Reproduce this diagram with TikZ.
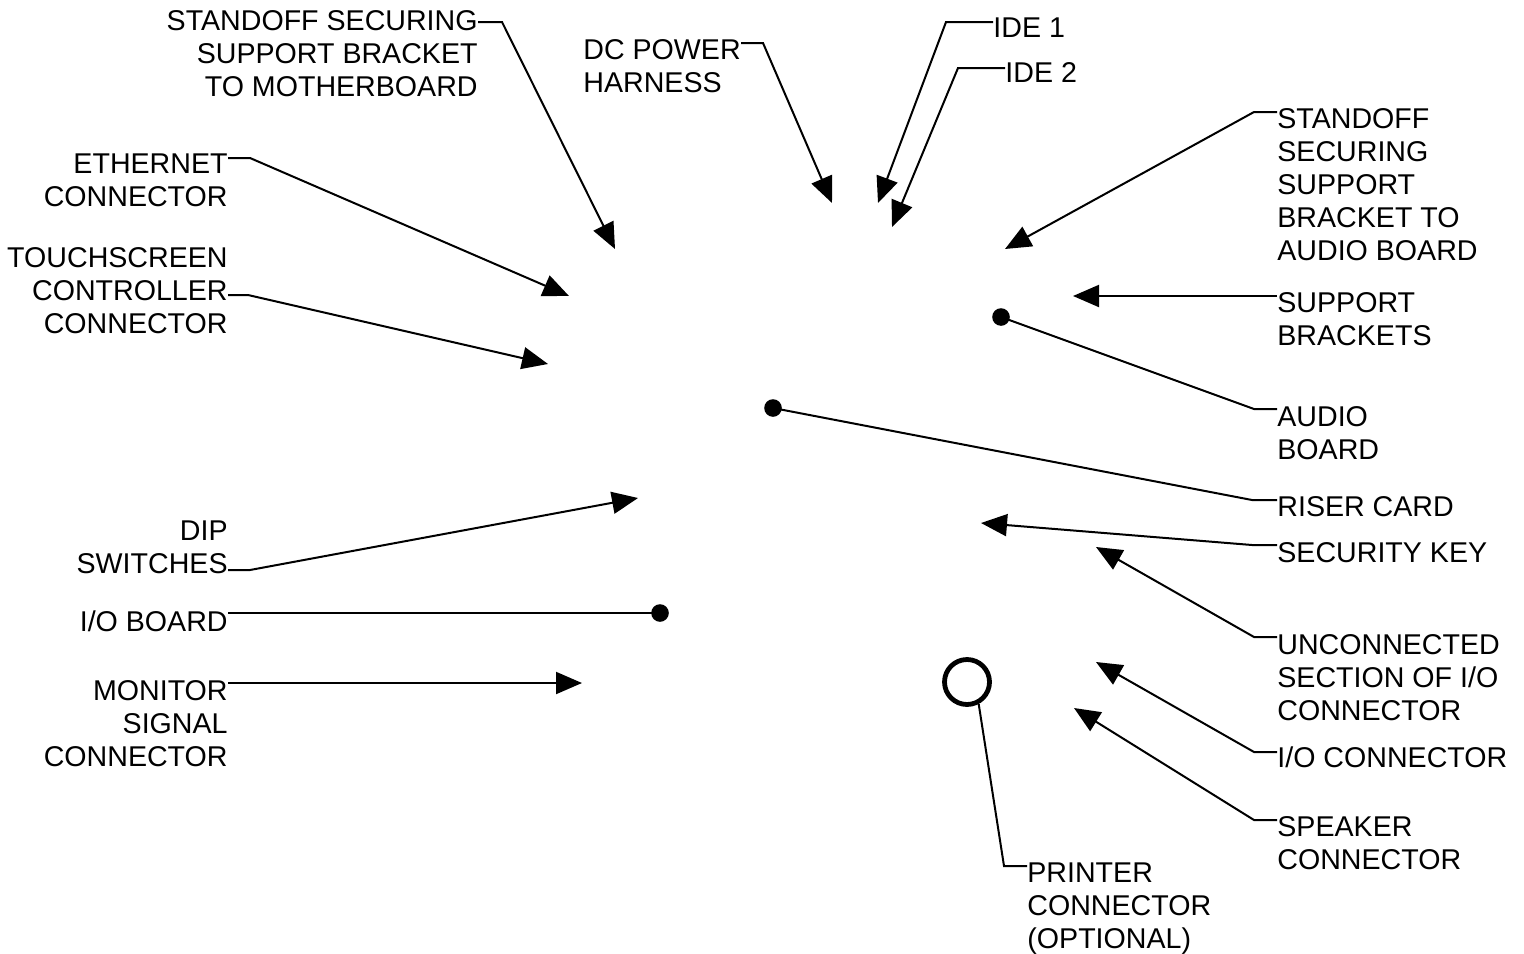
\documentclass[tikz,border=0pt]{standalone}
\usepackage{fontspec}
\setmainfont{Liberation Sans}
\usetikzlibrary{arrows.meta}

\begin{document}
\begin{tikzpicture}[x=0.5pt, y=-0.5pt,
    lbl/.style={font=\fontsize{14.3}{16.5}\selectfont, inner sep=0pt, align=left, anchor=north west},
    lblr/.style={lbl, align=right, anchor=north east},
    lead/.style={line width=1pt, -{Triangle[length=13pt, width=11pt]}},
    plain/.style={line width=1pt},
    dot/.style={circle, fill, inner sep=0pt, minimum size=8.8pt},
    ring/.style={circle, draw, line width=2.4pt, inner sep=0pt, minimum size=22.5pt}]
    \useasboundingbox (0,0) rectangle (1524,953);

    \node[lblr] (somb) at (478,10) {STANDOFF SECURING\\SUPPORT BRACKET\\TO MOTHERBOARD};
    \node[lblr] (eth) at (228,153) {ETHERNET\\CONNECTOR};
    \node[lblr] (touch) at (228,247) {TOUCHSCREEN\\CONTROLLER\\CONNECTOR};
    \node[lblr] (dip) at (228,520) {DIP\\SWITCHES};
    \node[lblr] (iob) at (228,610) {I/O BOARD};
    \node[lblr] (mon) at (228,680) {MONITOR\\SIGNAL\\CONNECTOR};

    \node[lbl] (dc) at (583,39) {DC POWER\\HARNESS};
    \node[lbl] (ide1) at (993,17) {IDE 1};
    \node[lbl] (ide2) at (1005,62) {IDE 2};

    \node[lbl] (soab) at (1277,108) {STANDOFF\\SECURING\\SUPPORT\\BRACKET TO\\AUDIO BOARD};
    \node[lbl] (sb) at (1277,292) {SUPPORT\\BRACKETS};
    \node[lbl] (audio) at (1277,406) {AUDIO\\BOARD};
    \node[lbl] (riser) at (1277,496) {RISER CARD};
    \node[lbl] (seckey) at (1277,542) {SECURITY KEY};
    \node[lbl] (uncon) at (1277,634) {UNCONNECTED\\SECTION OF I/O\\CONNECTOR};
    \node[lbl] (ioc) at (1277,746) {I/O CONNECTOR};
    \node[lbl] (spk) at (1277,816) {SPEAKER\\CONNECTOR};
    \node[lbl] (prn) at (1027,862) {PRINTER\\CONNECTOR\\(OPTIONAL)};

    \node[dot] (iobdot) at (660,613) {};
    \node[dot] (riserdot) at (773,408) {};
    \node[dot] (audiodot) at (1001,317) {};
    \node[ring] (prnring) at (967,682) {};

    \coordinate (somb-t) at (615,249);
    \coordinate (eth-t) at (569,296);
    \coordinate (touch-t) at (548,364);
    \coordinate (dip-t) at (638,498);
    \coordinate (mon-t) at (582,683);
    \coordinate (dc-t) at (832,203);
    \coordinate (ide1-t) at (878,203);
    \coordinate (ide2-t) at (892,227);
    \coordinate (soab-t) at (1005,249);
    \coordinate (sb-t) at (1073,296);
    \coordinate (seckey-t) at (981,523);
    \coordinate (uncon-t) at (1096,547);
    \coordinate (ioc-t) at (1096,662);
    \coordinate (spk-t) at (1074,708);

    \draw[lead] (somb.east |- 0,22) -- (502,22) -- (somb-t);
    \draw[lead] (eth.east |- 0,158) -- (250,158) -- (eth-t);
    \draw[lead] (touch.east |- 0,295) -- (248,295) -- (touch-t);
    \draw[lead] (dip.east |- 0,570) -- (250,570) -- (dip-t);
    \draw[plain] (iob.east |- iobdot) -- (iobdot.center);
    \draw[lead] (mon.east |- 0,683) -- (mon-t);

    \draw[lead] (dc.east |- 0,43) -- (763,43) -- (dc-t);
    \draw[lead] (ide1.west |- 0,22) -- (946,22) -- (ide1-t);
    \draw[lead] (ide2.west |- 0,68) -- (958,68) -- (ide2-t);

    \draw[lead] (soab.west |- 0,112) -- (1254,112) -- (soab-t);
    \draw[lead] (sb.west |- 0,296) -- (sb-t);
    \draw[plain] (audio.west |- 0,409) -- (1254,409) -- (audiodot.center);
    \draw[plain] (riser.west |- 0,500) -- (1252,500) -- (riserdot.center);
    \draw[lead] (seckey.west |- 0,545) -- (1252,545) -- (seckey-t);
    \draw[lead] (uncon.west |- 0,637) -- (1254,637) -- (uncon-t);
    \draw[lead] (ioc.west |- 0,752) -- (1254,752) -- (ioc-t);
    \draw[lead] (spk.west |- 0,820) -- (1254,820) -- (spk-t);
    \draw[plain] (prn.west |- 0,866) -- (1004,866) -- (prnring.-62);
\end{tikzpicture}
\end{document}
